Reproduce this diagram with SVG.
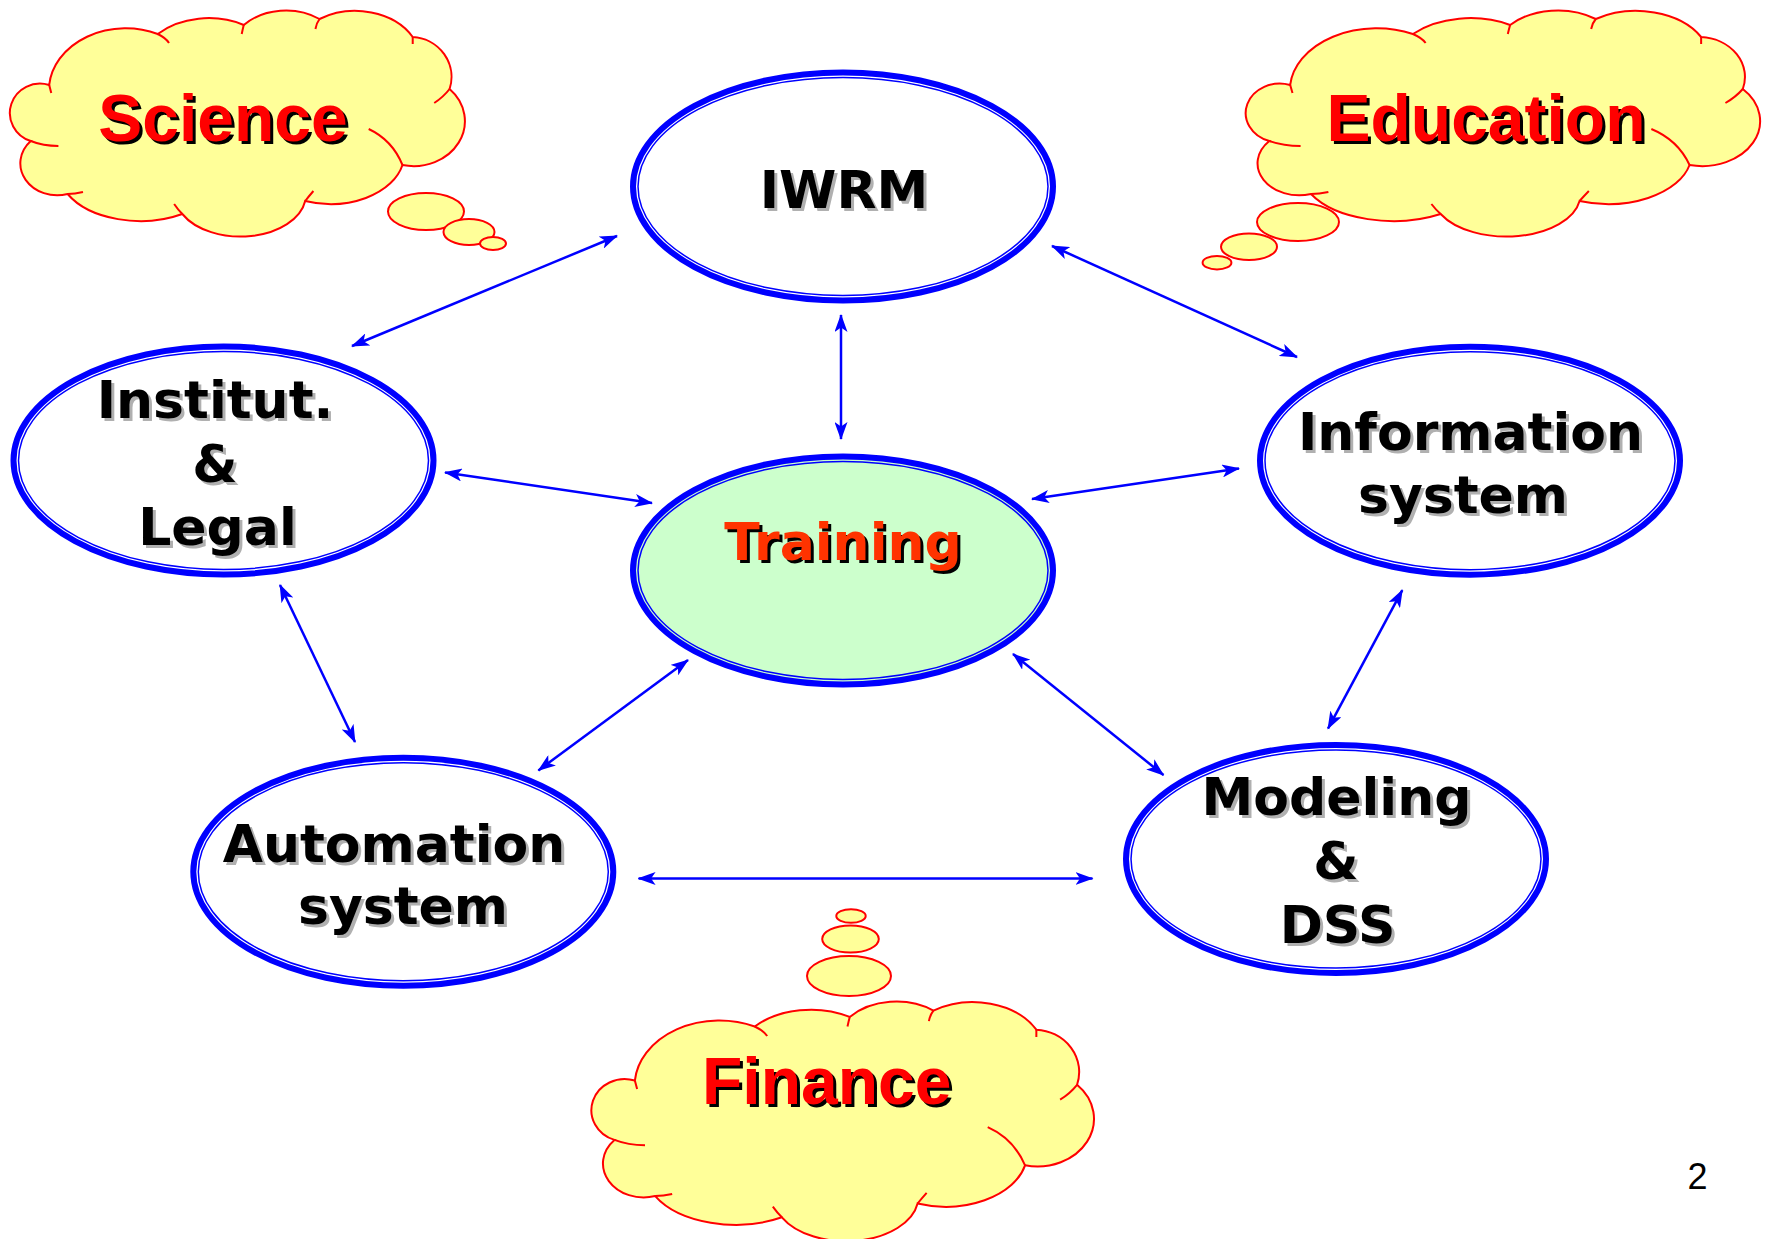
<svg xmlns="http://www.w3.org/2000/svg" xmlns:xlink="http://www.w3.org/1999/xlink" width="1766" height="1239" viewBox="0 0 1766 1239">
<style>
.cloud{fill:#FFFF99;stroke:#FF0000;stroke-width:2;vector-effect:non-scaling-stroke}
.tail{fill:none;stroke:#FF0000;stroke-width:2;vector-effect:non-scaling-stroke}
.bub{fill:#FFFF99;stroke:#FF0000;stroke-width:2}
.outer{fill:none;stroke:#0000FF;stroke-width:6}
.inner{fill:none;stroke:#0000FF;stroke-width:1.5}
.ct{font-family:"Liberation Sans",Arial,sans-serif;font-weight:bold;font-size:66px;text-anchor:middle}
.nt{font-family:"DejaVu Sans",Verdana,sans-serif;font-weight:bold;font-size:52px;text-anchor:middle}
.sh{fill:#B0B0B0}
.blk{fill:#000000}
.red{fill:#FF0000}
.org{fill:#FF3300}
</style>
<defs>
<marker id="arr" viewBox="0 0 18 13" refX="17" refY="6.5" markerWidth="18" markerHeight="13" markerUnits="userSpaceOnUse" orient="auto-start-reverse">
<path d="M0,0 L18,6.5 L0,13 L4.5,6.5 z" fill="#0000FF"/>
</marker>
<g id="cloudshape">
<path class="cloud" d="M32,140 A28 28 0 0 1 50,84 A75 62 0 0 1 156,33 A68 50 0 0 1 240,24 A56 45 0 0 1 314,18 A64 50 0 0 1 405,36 A40 40 0 0 1 441,88 A50 45 0 0 1 395,164 A72 50 0 0 1 300,200 A64 42 0 0 1 180,213 A80 50 0 0 1 68,193 A36 32 0 0 1 32,140 Z"/>
<path class="tail" d="M156,33 q8,4 11,9 M50,84 q1,4 2,8 M32,140 q12,5 27,5 M68,193 q7,0 15,-2 M180,213 q-4,-4 -8,-10 M300,200 q3,-4 8,-10 M395,164 q-10,-25 -33,-36 M441,88 q-6,8 -15,14 M405,36 q0,3 0,7 M314,18 q-3,4 -4,10 M240,24 q-1,4 -2,9"/>
</g>
</defs>
<rect width="1766" height="1239" fill="#FFFFFF"/>

<g id="cloud-science">
<use xlink:href="#cloudshape" href="#cloudshape" transform="translate(-2,1) scale(1.024,1)"/>
<ellipse class="bub" cx="426" cy="211.5" rx="38" ry="18.5"/>
<ellipse class="bub" cx="469" cy="232" rx="25.5" ry="13"/>
<ellipse class="bub" cx="493" cy="243.5" rx="13" ry="6.5"/>
<text class="ct blk" x="226" y="144">Science</text>
<text class="ct red" x="223" y="141">Science</text>
</g>

<g id="cloud-education">
<use xlink:href="#cloudshape" href="#cloudshape" transform="translate(1232.3,1) scale(1.1576,1)"/>
<ellipse class="bub" cx="1298" cy="222" rx="41" ry="19"/>
<ellipse class="bub" cx="1249" cy="246.7" rx="28" ry="13.3"/>
<ellipse class="bub" cx="1217" cy="262.7" rx="14.4" ry="6.7"/>
<text class="ct blk" x="1489" y="144">Education</text>
<text class="ct red" x="1486" y="141">Education</text>
</g>

<g id="cloud-finance">
<use xlink:href="#cloudshape" href="#cloudshape" transform="translate(578.3,991.5) scale(1.131,1.06)"/>
<ellipse class="bub" cx="849" cy="976" rx="42" ry="20"/>
<ellipse class="bub" cx="850.5" cy="939" rx="28.3" ry="13.5"/>
<ellipse class="bub" cx="851" cy="916" rx="14.7" ry="6.8"/>
<text class="ct blk" x="829.7" y="1107">Finance</text>
<text class="ct red" x="826.7" y="1104">Finance</text>
</g>

<g id="connectors" stroke="#0000FF" stroke-width="2.5" fill="none" marker-start="url(#arr)" marker-end="url(#arr)">
<line x1="617" y1="236" x2="352" y2="346"/>
<line x1="1052" y1="246" x2="1297" y2="357"/>
<line x1="841" y1="315" x2="841" y2="439"/>
<line x1="445" y1="472.5" x2="652" y2="503"/>
<line x1="1032" y1="499" x2="1239" y2="468.5"/>
<line x1="280" y1="585" x2="355" y2="742"/>
<line x1="688" y1="660" x2="538.4" y2="770.4"/>
<line x1="1013" y1="654" x2="1163.5" y2="775"/>
<line x1="1402.3" y1="590.2" x2="1328" y2="728.7"/>
<line x1="638.6" y1="878.5" x2="1092.5" y2="878.5"/>
</g>

<g id="node-iwrm">
<ellipse class="outer" cx="843" cy="186.5" rx="210" ry="114"/>
<ellipse class="inner" cx="843" cy="186.5" rx="205" ry="109"/>
<text class="nt sh" x="847" y="211">IWRM</text>
<text class="nt blk" x="844" y="208">IWRM</text>
</g>

<g id="node-institut">
<ellipse class="outer" cx="223.5" cy="460.5" rx="210" ry="114"/>
<ellipse class="inner" cx="223.5" cy="460.5" rx="205" ry="109"/>
<text class="nt sh" x="218" y="421">Institut.</text>
<text class="nt blk" x="215" y="418">Institut.</text>
<text class="nt sh" x="218" y="485">&amp;</text>
<text class="nt blk" x="215" y="482">&amp;</text>
<text class="nt sh" x="220.5" y="548">Legal</text>
<text class="nt blk" x="217.5" y="545">Legal</text>
</g>

<g id="node-training">
<ellipse cx="843" cy="570.5" rx="210" ry="114" fill="#CCFFCC"/>
<ellipse class="outer" cx="843" cy="570.5" rx="210" ry="114"/>
<ellipse class="inner" cx="843" cy="570.5" rx="205" ry="109"/>
<text class="nt blk" x="846" y="563">Training</text>
<text class="nt org" x="843" y="560">Training</text>
</g>

<g id="node-information">
<ellipse class="outer" cx="1470" cy="460.7" rx="210" ry="114"/>
<ellipse class="inner" cx="1470" cy="460.7" rx="205" ry="109"/>
<text class="nt sh" x="1473.5" y="453">Information</text>
<text class="nt blk" x="1470.5" y="450">Information</text>
<text class="nt sh" x="1466" y="516">system</text>
<text class="nt blk" x="1463" y="513">system</text>
</g>

<g id="node-automation">
<ellipse class="outer" cx="403.3" cy="871.7" rx="210" ry="114"/>
<ellipse class="inner" cx="403.3" cy="871.7" rx="205" ry="109"/>
<text class="nt sh" x="397" y="865">Automation</text>
<text class="nt blk" x="394" y="862">Automation</text>
<text class="nt sh" x="406" y="927">system</text>
<text class="nt blk" x="403" y="924">system</text>
</g>

<g id="node-modeling">
<ellipse class="outer" cx="1336" cy="859" rx="210" ry="114"/>
<ellipse class="inner" cx="1336" cy="859" rx="205" ry="109"/>
<text class="nt sh" x="1339.5" y="818">Modeling</text>
<text class="nt blk" x="1336.5" y="815">Modeling</text>
<text class="nt sh" x="1339" y="882">&amp;</text>
<text class="nt blk" x="1336" y="879">&amp;</text>
<text class="nt sh" x="1340.5" y="946">DSS</text>
<text class="nt blk" x="1337.5" y="943">DSS</text>
</g>

<text id="page-number" x="1697.5" y="1189" font-family="Liberation Sans, Arial, sans-serif" font-size="36" text-anchor="middle" fill="#000000">2</text>
</svg>
